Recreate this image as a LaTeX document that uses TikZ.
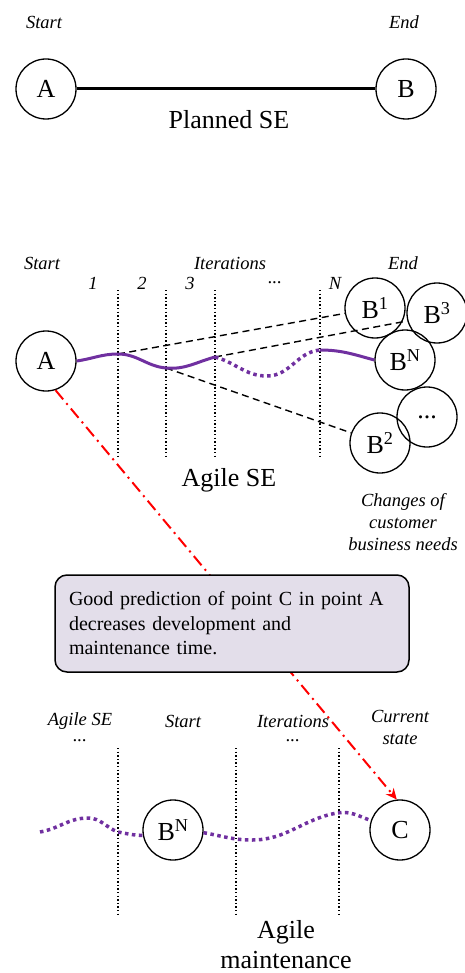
\documentclass[tikz,border=0pt]{standalone}
\usepackage{fontspec}
\setmainfont{Liberation Serif}
\usetikzlibrary{arrows.meta}
\definecolor{purp}{HTML}{7030A0}
\definecolor{boxfill}{HTML}{E3DEEA}
\begin{document}
\begin{tikzpicture}[x=1pt,y=-1pt,
  circ/.style={draw,circle,line width=1.3pt,minimum size=60pt,inner sep=0pt,font=\fontsize{26}{30}\selectfont},
  lab/.style={font=\fontsize{18.5}{22}\selectfont\itshape,align=center,inner sep=0pt},
  big/.style={font=\fontsize{26}{30}\selectfont,align=center,inner sep=0pt},
  vdot/.style={line width=1.4pt,dash pattern=on 1.4pt off 2.2pt},
  purpsolid/.style={draw=purp,line width=3pt},
  purpdot/.style={draw=purp,line width=3.5pt,dash pattern=on 3.5pt off 3.5pt},
  dashline/.style={line width=1.4pt,dash pattern=on 7pt off 4.5pt},
  redarrow/.style={draw=red,line width=2pt,dash pattern=on 12pt off 5pt on 2pt off 5pt,-{Stealth[length=11pt,width=10pt]}},
  infobox/.style={draw,line width=1.5pt,rounded corners=12pt,fill=boxfill,minimum height=97pt,text width=326pt,align=left,inner xsep=14pt,inner ysep=0pt,font=\fontsize{20}{24.5}\selectfont}
]
\useasboundingbox (0,0) rectangle (464,973);

% ---------- Planned SE ----------
\node[lab] (s1) at (44,22) {Start};
\node[lab] (e1) at (404,22) {End};
\node[circ] (A1) at (46,89) {A};
\node[circ] (B1) at (406,89) {B};
\draw[line width=3pt] (A1) -- (B1);
\node[big] (pse) at (229,120) {Planned SE};

% ---------- Agile SE ----------
\node[lab] (s2) at (42,263) {Start};
\node[lab] (it2) at (230,263) {Iterations};
\node[lab] (e2) at (403,263) {End};
\node[lab] (n1) at (93,283) {1};
\node[lab] (n2) at (142,283) {2};
\node[lab] (n3) at (190,283) {3};
\node[lab] (nd) at (275,283) {...};
\node[lab] (nN) at (335,283) {N};
\foreach \x in {118,166,215,320} \draw[vdot] (\x,290) -- (\x,459);

\node[circ] (A) at (46,361) {A};
\node[circ] (Bone) at (375,308) {B\textsuperscript{1}};
\node[circ] (Bthree) at (437,313) {B\textsuperscript{3}};
\node[circ] (BN) at (405,360) {B\textsuperscript{N}};
\node[circ] (Bdots) at (427,417) {...};
\node[circ] (Btwo) at (380,443) {B\textsuperscript{2}};

\coordinate (p1) at (118,354);
\coordinate (p2) at (166,368);
\coordinate (p3) at (215,357);
\coordinate (q) at (267,376);
\coordinate (p4) at (320,350);

\draw[dashline] (p1) -- (Bone);
\draw[dashline] (p3) -- (Bthree.195);
\draw[dashline] (p2) -- (Btwo);

\draw[purpsolid] (A.east) to[out=8,in=180] (p1) to[out=0,in=175] (p2) to[out=-5,in=195] (p3);
\draw[purpdot] (p3) to[out=-15,in=180] (q) to[out=0,in=185] (p4);
\draw[purpsolid] (p4) to[out=0,in=165] (BN.west);

\node[big] (ase) at (229,480) {Agile SE};
\node[lab] (chg) at (403,522) {Changes of\\customer\\business needs};

% ---------- Box and arrow ----------
\node[circ] (C) at (400,830) {C};
\draw[redarrow] (A.-72) -- (C.96);
\node[infobox] (box) at (232,623.5) {Good prediction of point C in point A\\decreases development and\\maintenance time.};

% ---------- Agile maintenance ----------
\node[lab] (l1) at (80,721) {Agile SE};
\node[lab] (l1d) at (80,741) {...};
\node[lab] (l2) at (183,721) {Start};
\node[lab] (l3) at (293,721) {Iterations};
\node[lab] (l3d) at (293,741) {...};
\node[lab] (l4) at (400,727) {Current\\state};
\foreach \x in {118,236,339} \draw[vdot] (\x,748) -- (\x,917);

\node[circ] (BNb) at (173,830) {B\textsuperscript{N}};
\coordinate (w0) at (40,832);
\coordinate (w1) at (88,818);
\coordinate (w2) at (118,832);
\coordinate (w3) at (252,840);
\coordinate (w4) at (337,813);
\draw[purpdot] (w0) to[out=10,in=180] (w1) to[out=0,in=160] (w2) to[out=-10,in=180] (BNb.190);
\draw[purpdot] (BNb.-5) to[out=-10,in=180] (w3) to[out=0,in=190] (w4) to[out=10,in=160] (C.162);

\node[big] (am) at (286,945) {Agile\\maintenance};
\end{tikzpicture}
\end{document}
